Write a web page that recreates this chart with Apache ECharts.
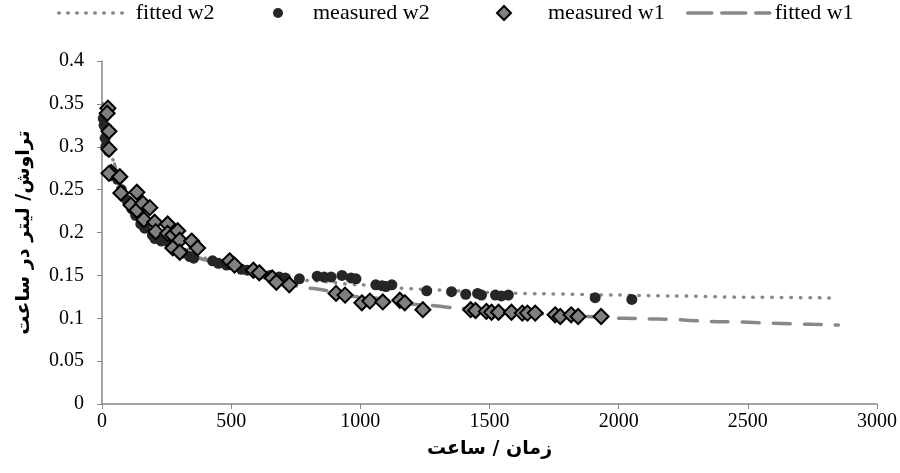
<!DOCTYPE html>
<html>
<head>
<meta charset="utf-8">
<script src="https://cdn.jsdelivr.net/npm/echarts@6/dist/echarts.min.js"></script>
<style>
html,body{margin:0;padding:0;background:#fff;}
#chart{width:900px;height:473px;}
</style>
</head>
<body>
<div id="chart"></div>
<script>
// ---- data ----
var xTickLabels = ['0','500','1000','1500','2000','2500','3000'];
var yTickLabels = ['0','0.05','0.1','0.15','0.2','0.25','0.3','0.35','0.4'];

var measuredW2X = [5,8,12,15,25,60,75,95,115,130,150,165,195,205,230,260,290,315,340,355,428,451,482,540,563,610,650,686,710,764,833,860,887,929,964,983,1060,1084,1099,1122,1257,1353,1408,1454,1469,1523,1546,1573,1909,2051];
var measuredW2Y = [0.333,0.325,0.31,0.30,0.295,0.262,0.25,0.238,0.228,0.22,0.21,0.205,0.197,0.193,0.19,0.188,0.18,0.176,0.172,0.170,0.167,0.164,0.162,0.157,0.156,0.152,0.150,0.148,0.147,0.146,0.149,0.148,0.148,0.150,0.147,0.146,0.139,0.138,0.137,0.139,0.132,0.131,0.128,0.129,0.127,0.127,0.126,0.127,0.124,0.122];

var measuredW1X = [23,20,27,27,35,27,69,73,135,112,135,158,185,162,204,208,254,254,274,293,301,274,301,347,370,494,513,586,609,659,675,725,906,941,1006,1037,1087,1153,1172,1242,1427,1446,1488,1508,1535,1585,1627,1647,1677,1754,1774,1816,1843,1932];
var measuredW1Y = [0.345,0.339,0.318,0.297,0.270,0.269,0.265,0.246,0.247,0.232,0.226,0.234,0.229,0.215,0.212,0.201,0.210,0.199,0.197,0.202,0.191,0.182,0.177,0.190,0.182,0.167,0.162,0.156,0.153,0.147,0.142,0.139,0.129,0.127,0.118,0.120,0.119,0.121,0.118,0.110,0.110,0.109,0.108,0.107,0.107,0.107,0.106,0.106,0.106,0.104,0.102,0.104,0.102,0.102];

var fittedW2X = [3,10,20,30,42,60,80,100,150,200,250,300,400,500,650,800,1000,1150,1300,1500,1700,2000,2200,2500,2850];
var fittedW2Y = [0.35,0.33,0.31,0.298,0.285,0.268,0.254,0.243,0.222,0.206,0.194,0.185,0.170,0.162,0.152,0.144,0.139,0.135,0.133,0.130,0.1285,0.127,0.126,0.1245,0.1235];

var fittedW1X = [3,10,20,30,42,60,80,100,150,200,250,300,400,500,563,650,800,1000,1265,1380,1500,1700,2024,2150,2400,2750,2850];
var fittedW1Y = [0.35,0.33,0.31,0.298,0.285,0.268,0.254,0.243,0.222,0.206,0.193,0.183,0.168,0.158,0.153,0.146,0.135,0.125,0.115,0.112,0.109,0.105,0.100,0.099,0.096,0.093,0.092];

var seriesNames = ['fitted w2','measured w2','measured w1','fitted w1'];

function zip(xs, ys){ return xs.map(function(x,i){ return [x, ys[i]]; }); }

var chart = echarts.init(document.getElementById('chart'));
var serif = '"Liberation Serif","Times New Roman",serif';
var axisGray = '#878787';
var legendText = { fontFamily: serif, fontSize: 22, color: '#000' };
var hideSym = { color: 'rgba(0,0,0,0)', borderWidth: 0, opacity: 0 };
var circlePath = 'path://M-10,0A10,10,0,1,0,10,0A10,10,0,1,0,-10,0Z';
var diamondPath = 'path://M0,-10L10,0L0,10L-10,0Z';

chart.setOption({
  animation: false,
  legend: [
    { top: -3, left: 52, itemWidth: 72, itemHeight: 12, itemGap: 0, textStyle: legendText,
      data: [{ name: seriesNames[0], itemStyle: hideSym,
        lineStyle: { color: '#888', width: 3.5, type: [0.5, 8.5], cap: 'round', opacity: 1 } }] },
    { top: -3, left: 268, itemWidth: 60, itemHeight: 10, itemGap: 0, textStyle: legendText,
      data: [{ name: seriesNames[1], icon: circlePath }] },
    { top: -3, left: 491, itemWidth: 78, itemHeight: 14, itemGap: 0, textStyle: legendText,
      data: [{ name: seriesNames[2], icon: diamondPath }] },
    { top: -3, left: 681, itemWidth: 82, itemHeight: 12, itemGap: 0, textStyle: legendText,
      data: [{ name: seriesNames[3], itemStyle: hideSym,
        lineStyle: { color: '#888', width: 3.5, type: [24, 10], cap: 'round', opacity: 1 } }] }
  ],
  grid: { left: 102, right: 20, top: 61, bottom: 69 },
  xAxis: {
    type: 'value', min: 0, max: 3000, interval: 500,
    name: 'زمان / ساعت', nameLocation: 'middle', nameGap: 36,
    nameTextStyle: { fontFamily: '"DejaVu Sans"', fontWeight: 'bold', fontSize: 19, color: '#000' },
    axisLine: { lineStyle: { color: axisGray, width: 1.5 } },
    axisTick: { show: true, length: 5, lineStyle: { color: axisGray } },
    axisLabel: { fontFamily: serif, fontSize: 20, color: '#000', margin: 8,
      formatter: function(v){ return xTickLabels[Math.round(v/500)]; } },
    splitLine: { show: false }
  },
  yAxis: {
    type: 'value', min: 0, max: 0.4, interval: 0.05,
    name: 'تراوش/ لیتر در ساعت', nameLocation: 'middle', nameGap: 68,
    nameTextStyle: { fontFamily: '"DejaVu Sans"', fontWeight: 'bold', fontSize: 19, color: '#000' },
    axisLine: { show: true, lineStyle: { color: axisGray, width: 1.5 } },
    axisTick: { show: true, length: 5, lineStyle: { color: axisGray } },
    axisLabel: { fontFamily: serif, fontSize: 20, color: '#000', margin: 18,
      formatter: function(v){ return yTickLabels[Math.round(v/0.05)]; } },
    splitLine: { show: false }
  },
  series: [
    {
      name: seriesNames[0], type: 'line', data: zip(fittedW2X, fittedW2Y),
      smooth: 0.3, smoothMonotone: 'x', showSymbol: false, symbol: 'none', z: 1,
      itemStyle: { color: '#888' },
      lineStyle: { color: '#888', width: 3.5, type: [0.5, 9], cap: 'round' }
    },
    {
      name: seriesNames[1], type: 'scatter', data: zip(measuredW2X, measuredW2Y),
      symbol: 'circle', symbolSize: 11, z: 3,
      itemStyle: { color: '#262626', opacity: 1 }
    },
    {
      name: seriesNames[2], type: 'scatter', data: zip(measuredW1X, measuredW1Y),
      symbol: 'diamond', symbolSize: 15, z: 4,
      itemStyle: { color: '#808080', borderColor: '#000', borderWidth: 2, opacity: 1 }
    },
    {
      name: seriesNames[3], type: 'line', data: zip(fittedW1X, fittedW1Y),
      smooth: 0.3, smoothMonotone: 'x', showSymbol: false, symbol: 'none', z: 2,
      itemStyle: { color: '#888' },
      lineStyle: { color: '#888', width: 3.5, type: [17, 14], cap: 'round' }
    }
  ]
});
</script>
</body>
</html>
